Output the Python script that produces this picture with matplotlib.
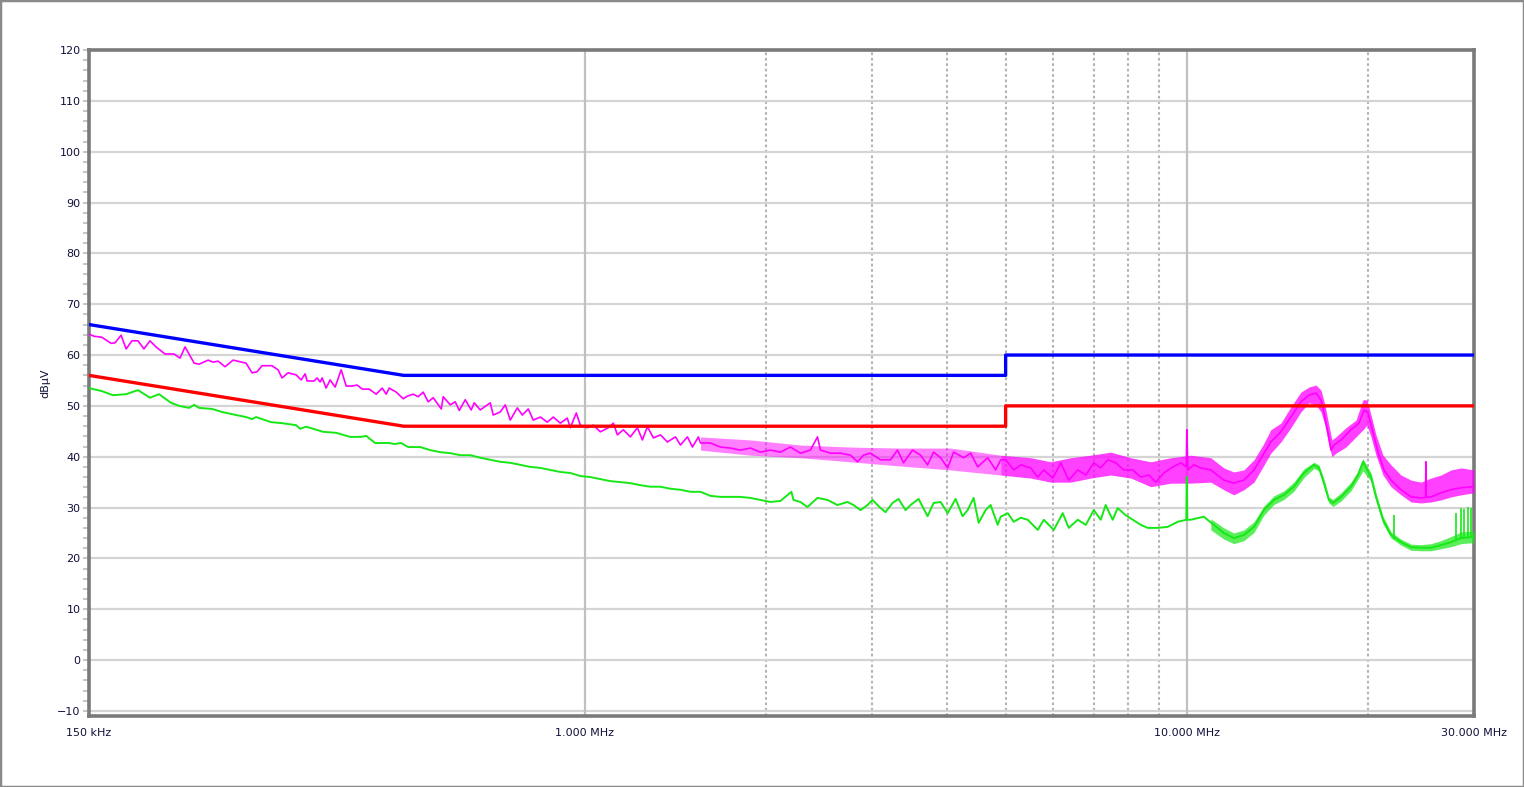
import matplotlib
matplotlib.use("Agg")
import matplotlib.pyplot as plt
from matplotlib.patches import Rectangle

# ---------------- data (MHz, dBuV) ----------------
limit_freq = [0.15, 0.5, 5.0, 5.0, 30.0]
qp_limit = [66, 56, 56, 60, 60]
av_limit = [56, 46, 46, 50, 50]

peak_freq = [0.150, 0.1529, 0.1576, 0.1632, 0.1657, 0.1696, 0.1729, 0.1768, 0.1809, 0.1851,
             0.1894, 0.1938, 0.2006, 0.2077, 0.2125, 0.2166, 0.2243, 0.2286, 0.2366, 0.2411,
             0.2458, 0.2524, 0.2603, 0.2736, 0.2799, 0.2853, 0.2908, 0.3021, 0.3091, 0.3139,
             0.3212, 0.3313, 0.3377, 0.3429, 0.3455, 0.3549, 0.3590, 0.3632, 0.3660, 0.3715,
             0.3773, 0.3846, 0.3936, 0.4012, 0.4105, 0.4185, 0.4265, 0.4381, 0.4500, 0.4605,
             0.4676, 0.4730, 0.4859, 0.4991, 0.5068, 0.5185, 0.5284, 0.5386, 0.5491, 0.5598,
             0.5772, 0.5816, 0.5974, 0.6089, 0.6183, 0.6327, 0.6473, 0.6548, 0.6700, 0.6961,
             0.7042, 0.7234, 0.7374, 0.7516, 0.7721, 0.7870, 0.8052, 0.8208, 0.8433, 0.8661,
             0.8861, 0.9102, 0.9348, 0.9456, 0.9676, 0.9826, 1.0092, 1.0327, 1.0607, 1.0937,
             1.1149, 1.1321, 1.1584, 1.1900, 1.2223, 1.2460, 1.2700, 1.2996, 1.3350, 1.3710,
             1.4138, 1.4411, 1.4803, 1.5088, 1.5436, 1.5557, 1.6163, 1.6793, 1.7447, 1.8128,
             1.8836, 1.9566, 2.0330, 2.1130, 2.1952, 2.2808, 2.3697, 2.4343, 2.4625, 2.5586,
             2.6583, 2.7619, 2.8374, 2.9034, 2.9821, 3.0983, 3.2191, 3.3062, 3.3832, 3.5021,
             3.6111, 3.7091, 3.7955, 3.8991, 4.0049, 4.0982, 4.2582, 4.3744, 4.4931, 4.6684,
             4.8136, 4.9065, 5.002, 5.158, 5.297, 5.504, 5.654, 5.786, 5.988, 6.174,
             6.366, 6.590, 6.795, 7.006, 7.194, 7.390, 7.621, 7.858, 8.132, 8.385,
             8.646, 8.882, 9.158, 9.479, 9.773, 9.98, 10.0, 10.04, 10.27, 10.55,
             10.96, 11.52, 11.97, 12.44, 12.93, 13.38, 13.79, 14.33, 14.89, 15.47,
             15.95, 16.39, 16.71, 16.90, 17.16, 17.36, 17.56, 18.04, 18.74, 19.32,
             19.70, 20.00, 20.38, 20.78, 21.26, 21.84, 22.69, 23.58, 24.49, 24.93,
             24.95, 24.97, 25.45, 26.44, 27.48, 28.55, 29.90]
peak_val = [64.1, 63.7, 63.5, 62.3, 62.4, 63.9, 61.2, 62.8, 62.8, 61.2,
            62.8, 61.6, 60.2, 60.2, 59.4, 61.6, 58.4, 58.2, 59.0, 58.6,
            58.8, 57.7, 59.0, 58.4, 56.5, 56.7, 57.9, 57.9, 57.1, 55.5,
            56.5, 56.1, 55.1, 56.3, 54.9, 54.9, 55.5, 54.7, 55.5, 53.5,
            55.1, 53.7, 57.1, 53.9, 53.9, 54.1, 53.3, 53.3, 52.3, 53.5,
            52.3, 53.5, 52.7, 51.4, 51.9, 52.3, 51.8, 52.7, 50.8, 51.6,
            49.4, 51.8, 50.2, 50.8, 49.1, 51.2, 49.2, 50.6, 49.2, 50.6,
            48.2, 48.8, 50.2, 47.2, 49.6, 48.2, 49.4, 47.2, 47.8, 46.8,
            47.8, 46.6, 47.6, 45.7, 48.6, 46.2, 45.7, 46.2, 44.9, 45.7,
            46.6, 44.3, 45.3, 43.9, 45.7, 43.3, 45.9, 43.7, 44.3, 42.9,
            43.9, 42.3, 43.9, 41.9, 43.9, 42.7, 42.7, 41.9, 41.7, 41.3,
            41.7, 40.9, 41.3, 40.9, 41.9, 40.7, 41.3, 43.9, 41.3, 40.7,
            40.7, 40.3, 39.0, 40.3, 40.7, 39.4, 39.4, 41.3, 38.8, 41.3,
            40.3, 38.4, 40.9, 39.8, 37.8, 40.9, 39.8, 40.7, 38.0, 39.8,
            37.4, 39.4, 39.4, 37.4, 38.4, 37.8, 36.0, 37.4, 35.8, 38.8,
            35.4, 37.4, 36.4, 38.8, 37.8, 39.4, 38.8, 37.4, 37.4, 36.0,
            36.4, 35.0, 36.8, 38.0, 38.8, 38.0, 45.3, 37.4, 38.4, 37.8,
            37.4, 35.4, 34.8, 35.4, 37.4, 40.3, 42.9, 44.9, 47.8, 50.8,
            52.1, 52.5, 51.2, 48.6, 44.7, 41.3, 42.3, 43.3, 45.3, 46.6,
            49.2, 48.6, 44.9, 40.9, 37.4, 35.4, 33.5, 32.1, 31.9, 32.0,
            39.0, 32.0, 32.1, 32.9, 33.5, 33.9, 34.1]

# upper / lower envelope of the dense part of the peak trace
peak_band_freq = [1.556, 1.884, 2.281, 2.762, 3.319, 4.052, 4.907, 5.504, 5.942, 6.415,
                  6.924, 7.476, 8.071, 8.714, 9.407, 10.15, 10.96, 11.52, 11.97, 12.44,
                  12.93, 13.38, 13.79, 14.33, 14.89, 15.47, 15.95, 16.39, 16.71, 16.96,
                  17.22, 17.42, 17.69, 18.38, 19.10, 19.62, 19.92, 20.23, 20.62, 21.18,
                  21.84, 22.69, 23.58, 24.49, 25.45, 26.44, 27.48, 28.55, 30.0]
peak_band_hi = [43.9, 43.3, 42.3, 41.9, 41.7, 41.7, 40.3, 39.8, 39.0, 39.8,
                40.3, 40.9, 39.8, 39.0, 39.8, 40.3, 39.8, 37.8, 37.0, 37.4,
                39.4, 42.3, 45.3, 46.6, 49.8, 52.7, 53.7, 54.1, 53.1, 50.2,
                46.2, 43.3, 43.9, 45.7, 47.2, 51.2, 51.2, 48.2, 44.3, 40.3,
                38.4, 36.4, 35.4, 35.0, 35.8, 36.4, 37.4, 37.8, 37.4]
peak_band_lo = [41.3, 40.3, 39.8, 39.0, 38.2, 37.4, 36.4, 35.8, 35.0, 35.0,
                35.8, 36.4, 35.8, 34.1, 34.8, 34.8, 35.0, 33.5, 32.5, 33.5,
                35.0, 38.0, 40.7, 42.9, 45.7, 48.8, 50.6, 50.2, 48.8, 46.2,
                42.3, 40.0, 40.7, 41.9, 43.9, 45.3, 46.2, 43.9, 40.3, 36.4,
                34.1, 32.5, 31.1, 30.9, 31.1, 31.5, 32.1, 32.5, 32.9]

avg_freq = [0.150, 0.1576, 0.1644, 0.1729, 0.1809, 0.1894, 0.1961, 0.2053, 0.2117, 0.2200,
            0.2243, 0.2286, 0.2401, 0.2495, 0.2633, 0.2736, 0.2799, 0.2842, 0.2908, 0.3009,
            0.3139, 0.3313, 0.3364, 0.3442, 0.3535, 0.3673, 0.3860, 0.3966, 0.4074, 0.4249,
            0.4331, 0.4481, 0.4730, 0.4820, 0.4951, 0.5086, 0.5125, 0.5326, 0.5534, 0.5749,
            0.5974, 0.6207, 0.6450, 0.6700, 0.6961, 0.7234, 0.7516, 0.7810, 0.8114, 0.8433,
            0.8761, 0.9102, 0.9456, 0.9826, 1.0210, 1.0607, 1.1021, 1.1451, 1.1900, 1.2363,
            1.2847, 1.3350, 1.3868, 1.4411, 1.4970, 1.5557, 1.6163, 1.6793, 1.7447, 1.8128,
            1.8836, 1.9566, 2.0330, 2.1130, 2.2034, 2.2206, 2.2808, 2.3426, 2.4343, 2.5293,
            2.6279, 2.7305, 2.7940, 2.8700, 2.9482, 3.0052, 3.0983, 3.1582, 3.2443, 3.3195,
            3.4101, 3.4760, 3.5838, 3.7091, 3.7955, 3.8991, 4.0049, 4.1296, 4.2406, 4.3233,
            4.4240, 4.5094, 4.6320, 4.7210, 4.8503, 4.9065, 5.0405, 5.158, 5.297, 5.441,
            5.654, 5.786, 6.011, 6.221, 6.366, 6.590, 6.795, 7.006, 7.194, 7.331,
            7.530, 7.675, 7.914, 8.132, 8.385, 8.610, 8.946, 9.295, 9.658, 9.98,
            10.0, 10.02, 10.15, 10.67, 11.09, 11.52, 11.97, 12.44, 12.93, 13.43,
            13.95, 14.50, 15.06, 15.65, 16.26, 16.58, 16.90, 17.22, 17.49, 18.04,
            18.74, 19.25, 19.62, 20.23, 20.62, 21.18, 21.84, 22.69, 23.58, 24.49,
            25.45, 26.44, 27.48, 28.55, 30.0]
avg_val = [53.5, 52.9, 52.1, 52.3, 53.1, 51.6, 52.3, 50.6, 50.0, 49.6,
           50.2, 49.6, 49.4, 48.8, 48.2, 47.8, 47.4, 47.8, 47.4, 46.8,
           46.6, 46.2, 45.5, 45.9, 45.5, 44.9, 44.7, 44.3, 43.9, 43.9,
           44.1, 42.7, 42.7, 42.5, 42.7, 41.9, 41.9, 41.9, 41.3, 40.9,
           40.7, 40.3, 40.3, 39.8, 39.4, 39.0, 38.8, 38.4, 38.0, 37.8,
           37.4, 37.0, 36.8, 36.2, 36.0, 35.6, 35.2, 35.0, 34.8, 34.4,
           34.1, 34.1, 33.7, 33.5, 33.1, 33.1, 32.3, 32.1, 32.1, 32.1,
           31.9, 31.5, 31.1, 31.3, 33.1, 31.5, 31.1, 30.1, 31.9, 31.5,
           30.5, 31.1, 30.5, 29.5, 30.5, 31.5, 29.9, 29.1, 30.9, 31.7,
           29.5, 30.5, 31.7, 28.3, 30.9, 31.1, 28.9, 31.7, 28.3, 29.5,
           31.9, 27.0, 29.5, 30.5, 26.6, 28.2, 28.9, 27.2, 28.0, 27.6,
           25.6, 27.6, 25.6, 28.9, 26.0, 27.6, 26.6, 29.5, 27.6, 30.5,
           27.6, 29.9, 28.5, 27.6, 26.6, 26.0, 26.0, 26.2, 27.2, 27.6,
           36.0, 27.6, 27.6, 28.2, 26.6, 25.0, 24.0, 24.6, 26.2, 29.5,
           31.5, 32.5, 34.1, 36.8, 38.4, 37.8, 34.8, 31.5, 30.9, 32.1,
           34.1, 36.4, 39.0, 36.0, 32.1, 27.6, 24.6, 23.2, 22.2, 22.1,
           22.1, 22.6, 23.2, 24.0, 24.2]

avg_band_freq = [10.96, 11.52, 11.97, 12.44, 12.93, 13.43, 13.95, 14.50, 15.06,
                 15.65, 16.26, 16.58, 16.90, 17.22, 17.49, 18.04, 18.74, 19.25, 19.62,
                 20.23, 20.62, 21.18, 21.84, 22.69, 23.58, 24.49, 25.45, 26.44, 27.48,
                 28.55, 30.0]
avg_band_hi = [27.8, 26.0, 25.0, 25.6, 27.2, 30.3, 32.3, 33.3, 35.0,
               37.6, 38.9, 38.4, 35.6, 32.1, 31.6, 32.9, 35.0, 37.2, 39.6,
               36.8, 32.9, 28.3, 25.2, 23.8, 22.8, 22.7, 22.9, 23.5, 24.3,
               25.2, 25.4]
avg_band_lo = [25.6, 23.8, 22.9, 23.5, 25.1, 28.5, 30.6, 31.6, 33.2,
               35.9, 37.7, 37.2, 34.0, 30.9, 30.2, 31.3, 33.3, 35.6, 37.2,
               35.2, 31.3, 26.8, 24.0, 22.6, 21.6, 21.5, 21.5, 21.9, 22.3,
               22.9, 23.1]

# isolated spikes of the average trace (frequency, base, top)
avg_spike_freq = [22.11, 28.00, 28.55, 28.87, 29.31, 29.65]
avg_spike_base = [23.8, 23.6, 24.0, 24.0, 24.1, 24.2]
avg_spike_top = [28.5, 29.0, 30.0, 29.8, 30.1, 30.0]

x_tick_pos = [0.15, 1.0, 10.0, 30.0]
x_tick_labels = ["150 kHz", "1.000 MHz", "10.000 MHz", "30.000 MHz"]
x_minor_grid = [2, 3, 4, 5, 6, 7, 8, 9, 20]
y_ticks = list(range(-10, 121, 10))
y_minor = list(range(-10, 121, 2))

# ---------------- figure ----------------
fig = plt.figure(figsize=(15.24, 7.87), dpi=100)
ax = fig.add_axes([89 / 1524, 1 - 716 / 787, (1474 - 89) / 1524, (716 - 50) / 787])

ax.set_xscale("log")
ax.set_xlim(0.15, 30)
ax.set_ylim(-11, 120)

MAG = "#ff00ff"
GRN = "#16e816"

# lighter band in the 1.5-5 MHz zone, denser band above 5 MHz
ax.fill_between(peak_band_freq[:7], peak_band_lo[:7], peak_band_hi[:7],
                color=MAG, lw=0, alpha=0.5, zorder=3)
ax.fill_between(peak_band_freq[6:], peak_band_lo[6:], peak_band_hi[6:],
                color=MAG, lw=0, alpha=0.75, zorder=3)
ax.plot(peak_freq, peak_val, color=MAG, lw=1.2, zorder=3)

ax.fill_between(avg_band_freq, avg_band_lo, avg_band_hi, color=GRN, lw=0, alpha=0.7, zorder=3)
ax.plot(avg_freq, avg_val, color=GRN, lw=1.4, zorder=3)
ax.vlines(avg_spike_freq, avg_spike_base, avg_spike_top, color=GRN, lw=1.2, zorder=3)

ax.plot(limit_freq, qp_limit, color="#0000ff", lw=2.4, zorder=4)
ax.plot(limit_freq, av_limit, color="#ff0000", lw=2.4, zorder=4)

# ticks
ax.set_xticks(x_tick_pos)
ax.set_xticklabels(x_tick_labels)
ax.set_xticks(x_minor_grid, minor=True)
ax.set_xticklabels([], minor=True)
ax.tick_params(axis="x", which="both", length=0, pad=9, labelsize=8, labelcolor="#10103a")
ax.set_yticks(y_ticks)
ax.set_yticks(y_minor, minor=True)
ax.tick_params(axis="y", which="major", length=4, width=1.5, color="#c8c8c8", pad=2,
               labelsize=8, labelcolor="#10103a")
ax.tick_params(axis="y", which="minor", length=4, width=1.5, color="#c8c8c8")

# grid
for yv in y_ticks:
    ax.axhline(yv, color="#d4d4d4", lw=1.6, zorder=1)
for xv in [1.0, 10.0]:
    ax.axvline(xv, color="#c0c0c0", lw=1.6, zorder=1)
ax.grid(False)
ax.xaxis.grid(True, which="minor", color="#b4b4b4", lw=1.5, linestyle=(0, (1.3, 1.3)), zorder=1)
ax.set_axisbelow(True)

for s in ax.spines.values():
    s.set_color("#7a7a7a")
    s.set_linewidth(2.6)

ax.set_ylabel("dBµV", fontsize=8, color="#10103a", labelpad=5)

fig.patches.append(Rectangle((0, 0), 1, 1, transform=fig.transFigure, fill=False,
                             edgecolor="#8a8a8a", lw=2.5))

fig.savefig("out.png", dpi=100)
